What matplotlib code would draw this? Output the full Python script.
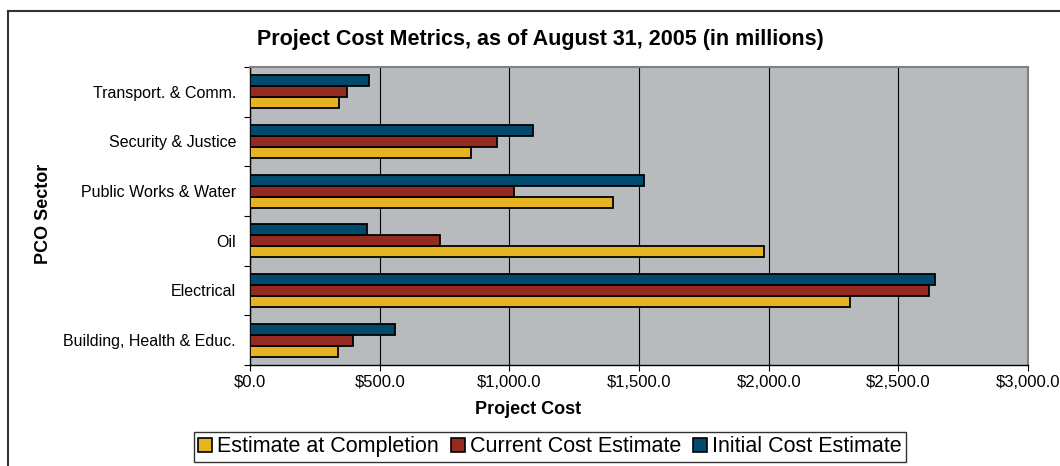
import matplotlib
matplotlib.use("Agg")
import matplotlib.pyplot as plt
import numpy as np
from matplotlib.patches import Rectangle
from matplotlib.lines import Line2D

plt.rcParams['font.family'] = ['Liberation Sans', 'DejaVu Sans']

categories = ["Building, Health & Educ.", "Electrical", "Oil",
              "Public Works & Water", "Security & Justice", "Transport. & Comm."]
estimate_at_completion = [341, 2314, 1982, 1400, 853, 345]
current_cost_estimate = [398, 2617, 734, 1019, 953, 375]
initial_cost_estimate = [559, 2640, 452, 1520, 1092, 457]
series_names = ["Estimate at Completion", "Current Cost Estimate", "Initial Cost Estimate"]
colors = ["#E6B322", "#952A20", "#004A6D"]
xticks = [0, 500, 1000, 1500, 2000, 2500, 3000]
xtick_labels = ["$0.0", "$500.0", "$1,000.0", "$1,500.0", "$2,000.0", "$2,500.0", "$3,000.0"]

W, H = 1060, 466
fig = plt.figure(figsize=(W / 100, H / 100), dpi=100)
ax = fig.add_axes([250 / W, 1 - 365 / H, (1028 - 250) / W, (365 - 67) / H])
ax.set_facecolor("#B7BBBE")

y = np.arange(len(categories))
bh = 0.22
series = [estimate_at_completion, current_cost_estimate, initial_cost_estimate]
for i, (vals, c, name) in enumerate(zip(series, colors, series_names)):
    ax.barh(y + (i - 1) * bh, vals, height=bh, color=c, edgecolor="black",
            linewidth=1.3, label=name, zorder=3)

ax.set_xlim(0, 3000)
ax.set_ylim(-0.5, len(categories) - 0.5)
ax.set_xticks(xticks)
ax.set_xticklabels(xtick_labels, fontsize=12)
ax.xaxis.grid(True, color="black", linewidth=0.8, zorder=1)
ax.tick_params(axis="x", direction="out", length=4, pad=3, color="black")

ax.set_yticks(np.arange(len(categories) + 1) - 0.5)
ax.set_yticklabels([])
ax.set_yticks(y, minor=True)
ax.set_yticklabels(categories, minor=True, fontsize=11.5)
ax.tick_params(axis="y", which="major", direction="out", length=4, color="black")
ax.tick_params(axis="y", which="minor", length=0, pad=10)

for side in ["top", "right"]:
    ax.spines[side].set_color("#808080")
    ax.spines[side].set_linewidth(1.5)
for side in ["left", "bottom"]:
    ax.spines[side].set_color("black")
    ax.spines[side].set_linewidth(1.0)

fig.text(540 / W, 1 - 40 / H, "Project Cost Metrics, as of August 31, 2005 (in millions)",
         ha="center", va="center", fontsize=15.5, fontweight="bold")
fig.text(43 / W, 1 - 214 / H, "PCO Sector", rotation=90, ha="center", va="center",
         fontsize=13, fontweight="bold")
fig.text(528 / W, 1 - 410 / H, "Project Cost", ha="center", va="center",
         fontsize=13, fontweight="bold")

# outer chart border
fig.add_artist(Line2D([8 / W, 8 / W], [0, 1 - 11 / H], transform=fig.transFigure,
                      color="#333333", linewidth=1.5))
fig.add_artist(Line2D([8 / W, 1], [1 - 11 / H, 1 - 11 / H], transform=fig.transFigure,
                      color="#333333", linewidth=1.5))

handles = [Rectangle((0, 0), 1, 1, facecolor=c, edgecolor="black", linewidth=1.2) for c in colors]
leg = fig.legend(handles, series_names, loc="upper center", bbox_to_anchor=(550 / W, 1 - 432 / H),
                 ncol=3, fontsize=15.5, frameon=True, fancybox=False, edgecolor="black",
                 handlelength=0.65, handleheight=0.65, handletextpad=0.23, columnspacing=0.56,
                 borderpad=0.2, borderaxespad=0)
leg.get_frame().set_linewidth(1.0)

fig.savefig("out.png", dpi=100)
